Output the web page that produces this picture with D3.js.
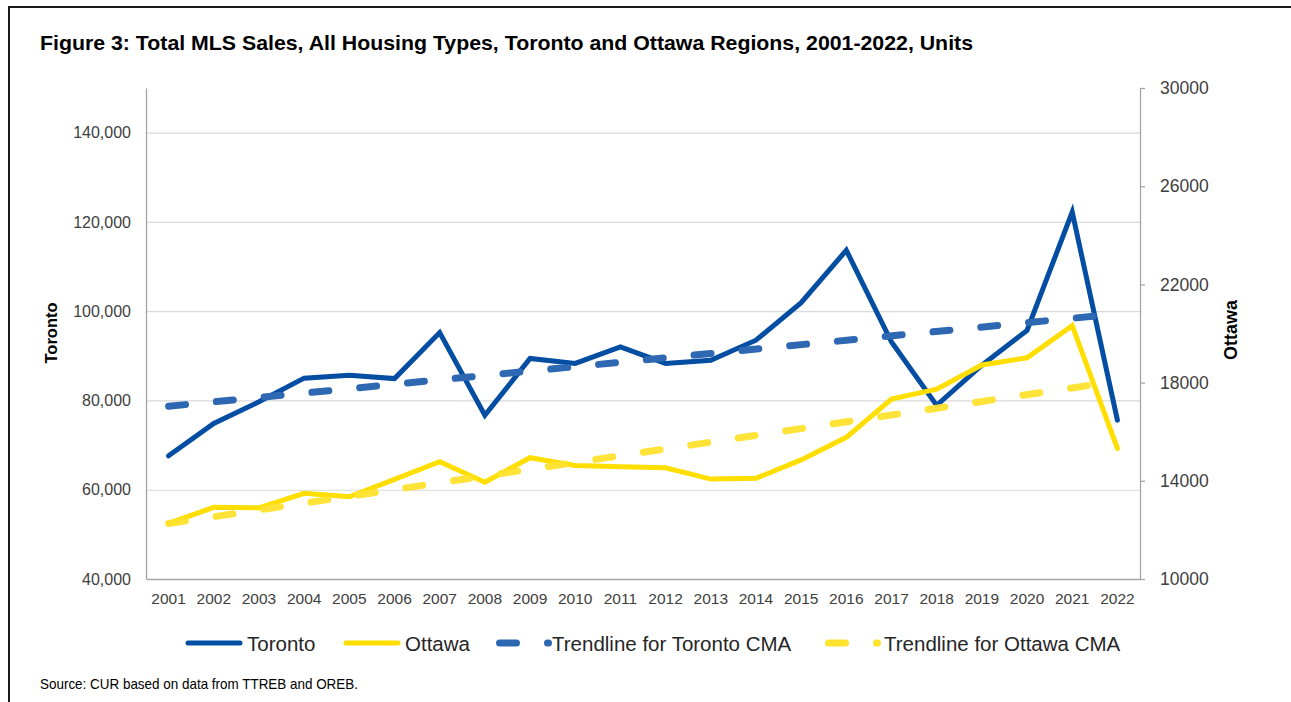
<!DOCTYPE html>
<html>
<head>
<meta charset="utf-8">
<script src="https://cdn.jsdelivr.net/npm/d3@7"></script>
<style>
  html, body { margin: 0; padding: 0; background: #fff; }
  svg { display: block; }
  text { font-family: "Liberation Sans", Arial, sans-serif; }
</style>
</head>
<body>
<svg id="chart" width="1291" height="702"></svg>
<script>
// ---------- data ----------
const years = [2001, 2002, 2003, 2004, 2005, 2006, 2007, 2008, 2009, 2010, 2011,
               2012, 2013, 2014, 2015, 2016, 2017, 2018, 2019, 2020, 2021, 2022];
const toronto = [67600, 74850, 79700, 85000, 85670, 84900, 95200, 76700, 89400, 88300, 92000,
                 88300, 89000, 93500, 101900, 113650, 93100, 78900, 87900, 95700, 122200, 75600];
const ottawa = [12270, 12920, 12900, 13490, 13350, 14060, 14780, 13940, 14940, 14620, 14570,
                14530, 14070, 14100, 14850, 15770, 17330, 17730, 18720, 19010, 20320, 15320];
const trendYears = [2001, 2022];
const torontoTrend = [78700, 99400];
const ottawaTrend = [12260, 18060];
const leftTicks = [40000, 60000, 80000, 100000, 120000, 140000];
const rightTicks = [10000, 14000, 18000, 22000, 26000, 30000];
const leftDomain = [40000, 150000];
const rightDomain = [10000, 30000];

const title = "Figure 3: Total MLS Sales, All Housing Types, Toronto and Ottawa Regions, 2001-2022, Units";
const leftTitle = "Toronto";
const rightTitle = "Ottawa";
const source = "Source: CUR based on data from TTREB and OREB.";
const legendItems = [
  { label: "Toronto", color: "#034EA2", dashed: false },
  { label: "Ottawa", color: "#FFDE00", dashed: false },
  { label: "Trendline for Toronto CMA", color: "#2F68B2", dashed: true },
  { label: "Trendline for Ottawa CMA", color: "#FFE22E", dashed: true }
];

// ---------- layout ----------
const svg = d3.select("#chart");
const plot = { left: 146, right: 1140, top: 88, bottom: 579 };

const x = d3.scaleBand().domain(years).range([plot.left, plot.right]);
const xc = d => x(d) + x.bandwidth() / 2;
const yL = d3.scaleLinear().domain(leftDomain).range([plot.bottom, plot.top]);
const yR = d3.scaleLinear().domain(rightDomain).range([plot.bottom, plot.top]);

// outer frame (top + left edges visible)
svg.append("path")
  .attr("d", "M9,702 V7 H1291")
  .attr("fill", "none").attr("stroke", "#1a1a1a").attr("stroke-width", 2);

// title
svg.append("text")
  .attr("x", 40).attr("y", 50)
  .attr("font-size", 20.5).attr("font-weight", "bold").attr("fill", "#000")
  .attr("textLength", 933).attr("lengthAdjust", "spacingAndGlyphs")
  .text(title);

// gridlines
svg.append("g")
  .attr("transform", `translate(${plot.left},0)`)
  .call(d3.axisLeft(yL).tickValues(leftTicks.slice(1)).tickSize(-(plot.right - plot.left)).tickFormat(""))
  .call(g => g.select(".domain").remove())
  .call(g => g.selectAll("line").attr("stroke", "#d9d9d9").attr("stroke-width", 1.2));

// left axis
const gL = svg.append("g")
  .attr("transform", `translate(${plot.left},0)`)
  .call(d3.axisLeft(yL).tickValues(leftTicks).tickSize(0).tickSizeOuter(0).tickPadding(15).tickFormat(d3.format(",")));
gL.select(".domain").attr("stroke", "#a6a6a6").attr("stroke-width", 1.3);
gL.selectAll("text").attr("font-size", 16).attr("fill", "#404040")
  .attr("font-family", "'Liberation Sans', Arial, sans-serif");

// right axis
const gR = svg.append("g")
  .attr("transform", `translate(${plot.right},0)`)
  .call(d3.axisRight(yR).tickValues(rightTicks).tickSize(5).tickSizeOuter(0).tickPadding(15).tickFormat(d3.format("d")));
gR.select(".domain").attr("stroke", "#a6a6a6").attr("stroke-width", 1.3);
gR.selectAll("line").attr("stroke", "#a6a6a6").attr("stroke-width", 1.3);
gR.selectAll("text").attr("font-size", 17.5).attr("fill", "#404040")
  .attr("font-family", "'Liberation Sans', Arial, sans-serif");

// bottom axis
const gB = svg.append("g")
  .attr("transform", `translate(0,${plot.bottom})`)
  .call(d3.axisBottom(x).tickSize(0).tickSizeOuter(0).tickPadding(14));
gB.select(".domain").attr("stroke", "#a6a6a6").attr("stroke-width", 1.3);
gB.selectAll("text").attr("font-size", 15.5).attr("fill", "#404040")
  .attr("font-family", "'Liberation Sans', Arial, sans-serif");

// axis titles
svg.append("text")
  .attr("transform", `translate(51,333) rotate(-90)`)
  .attr("text-anchor", "middle").attr("dominant-baseline", "central")
  .attr("font-size", 16.5).attr("font-weight", "bold").attr("fill", "#000")
  .text(leftTitle);
svg.append("text")
  .attr("transform", `translate(1231,330) rotate(-90)`)
  .attr("text-anchor", "middle").attr("dominant-baseline", "central")
  .attr("font-size", 18).attr("font-weight", "bold").attr("fill", "#000")
  .text(rightTitle);

// series
const lineL = d3.line().x((d, i) => xc(years[i])).y(d => yL(d));
const lineR = d3.line().x((d, i) => xc(years[i])).y(d => yR(d));
const trendL = d3.line().x((d, i) => xc(trendYears[i])).y(d => yL(d));
const trendR = d3.line().x((d, i) => xc(trendYears[i])).y(d => yR(d));

svg.append("path").datum(toronto).attr("d", lineL)
  .attr("fill", "none").attr("stroke", legendItems[0].color).attr("stroke-width", 5)
  .attr("stroke-linecap", "round").attr("stroke-linejoin", "miter");
svg.append("path").datum(torontoTrend).attr("d", trendL)
  .attr("fill", "none").attr("stroke", legendItems[2].color).attr("stroke-width", 7)
  .attr("stroke-linecap", "round").attr("stroke-dasharray", "17,31");
svg.append("path").datum(ottawa).attr("d", lineR)
  .attr("fill", "none").attr("stroke", legendItems[1].color).attr("stroke-width", 5)
  .attr("stroke-linecap", "round").attr("stroke-linejoin", "miter");
svg.append("path").datum(ottawaTrend).attr("d", trendR)
  .attr("fill", "none").attr("stroke", legendItems[3].color).attr("stroke-width", 7)
  .attr("stroke-linecap", "round").attr("stroke-dasharray", "17,31").attr("opacity", 0.95);

// legend
const legendPos = [
  { x0: 188, x1: 240, tx: 247 },
  { x0: 346, x1: 398, tx: 405 },
  { x0: 499.5, x1: 548.5, tx: 552 },
  { x0: 828.5, x1: 877.5, tx: 884 }
];
const legendY = 643;
const lg = svg.append("g");
legendItems.forEach((it, i) => {
  const p = legendPos[i];
  lg.append("line")
    .attr("x1", p.x0).attr("x2", p.x1).attr("y1", legendY).attr("y2", legendY)
    .attr("stroke", it.color).attr("stroke-width", it.dashed ? 7 : 5)
    .attr("stroke-linecap", "round")
    .attr("stroke-dasharray", it.dashed ? "17,31" : null);
  lg.append("text")
    .attr("x", p.tx).attr("y", legendY).attr("dominant-baseline", "central")
    .attr("font-size", 20.5).attr("fill", "#262626")
    .text(it.label);
});

// source
svg.append("text")
  .attr("x", 40).attr("y", 689)
  .attr("font-size", 14.5).attr("fill", "#000")
  .attr("textLength", 318).attr("lengthAdjust", "spacingAndGlyphs")
  .text(source);
</script>
</body>
</html>
